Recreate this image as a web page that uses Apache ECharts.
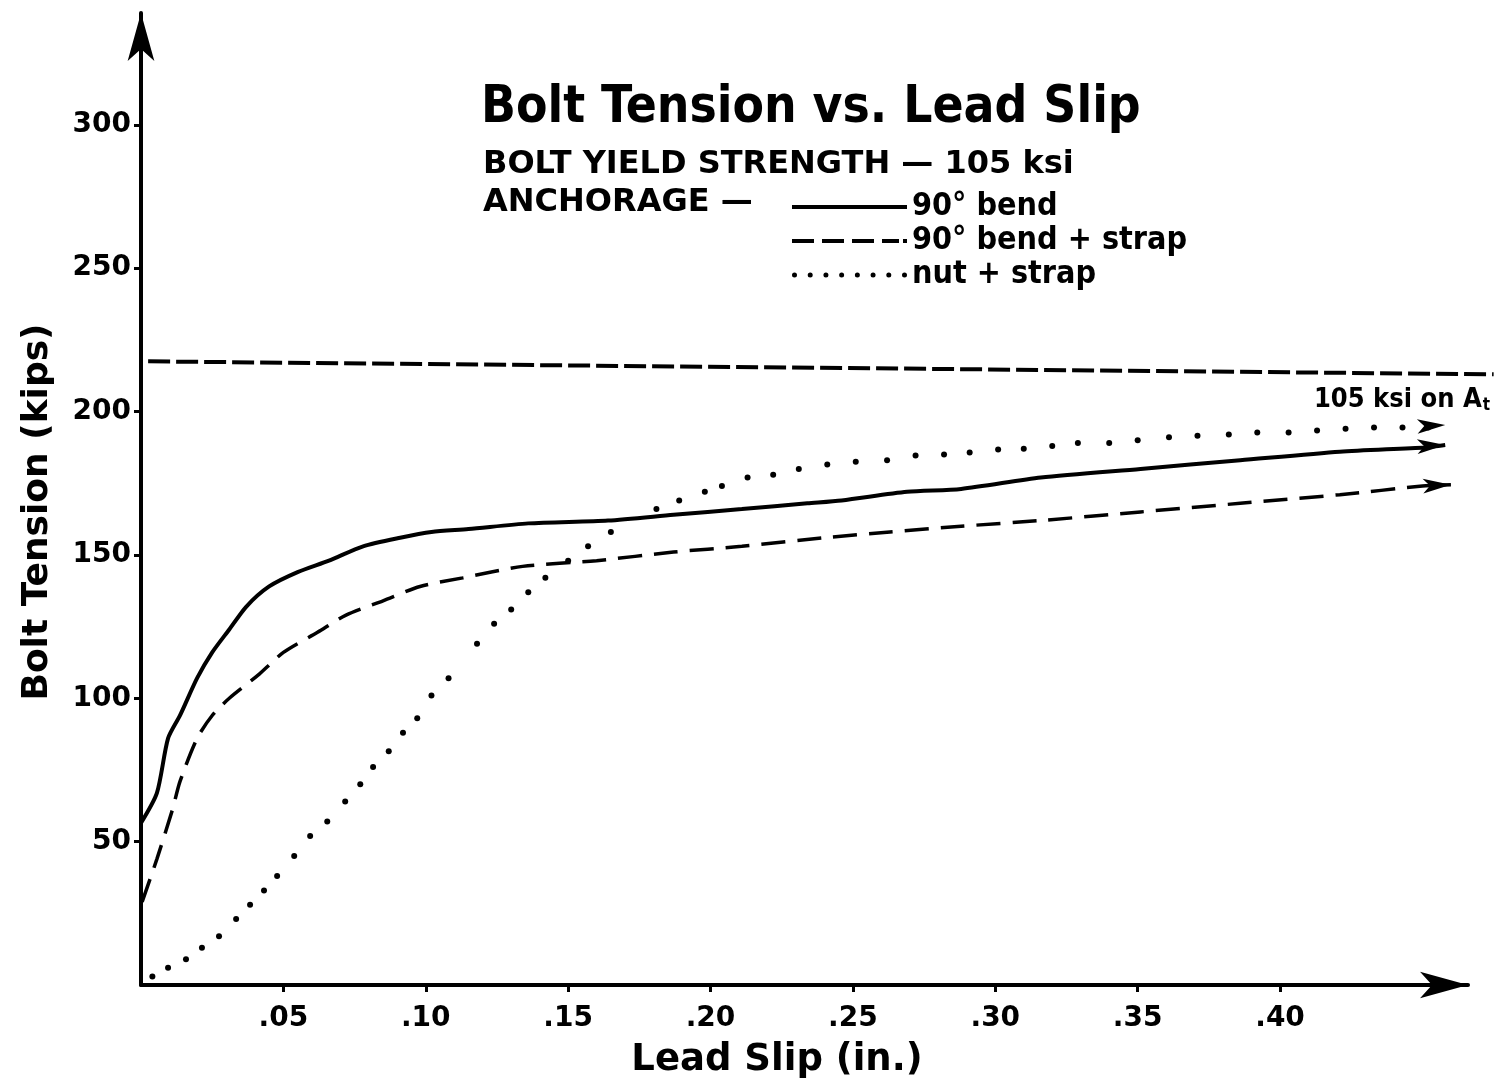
<!DOCTYPE html>
<html>
<head>
<meta charset="utf-8">
<script src="https://cdn.jsdelivr.net/npm/echarts@6/dist/echarts.min.js"></script>
<style>
  html, body { margin: 0; padding: 0; background: #fff; }
  #chart { width: 1497px; height: 1091px; }
</style>
</head>
<body>
<div id="chart"></div>
<script>
// ---- data ----
const xTicks = [0.05, 0.10, 0.15, 0.20, 0.25, 0.30, 0.35, 0.40];
const xTickLabels = ['.05', '.10', '.15', '.20', '.25', '.30', '.35', '.40'];
const yTicks = [50, 100, 150, 200, 250, 300];

// 90° bend (solid) — last point is the arrow head
const bendX = [0, 0.0056, 0.0095, 0.0137, 0.0197, 0.025, 0.031, 0.037, 0.045, 0.055, 0.066, 0.078, 0.091, 0.102, 0.115, 0.136, 0.164, 0.187, 0.211, 0.234, 0.246, 0.269, 0.288, 0.316, 0.351, 0.386, 0.421, 0.451, 0.458];
const bendY = [56.5, 67, 86, 94, 107, 116, 124, 132, 139, 144, 148, 153, 156, 158, 159, 161, 162, 164, 166, 168, 169, 172, 173, 177, 180, 183, 186, 187.5, 188.3];

// 90° bend + strap (dashed)
const strapX = [0.0004, 0.0056, 0.011, 0.0137, 0.0197, 0.025, 0.031, 0.041, 0.050, 0.062, 0.072, 0.085, 0.098, 0.113, 0.134, 0.160, 0.187, 0.211, 0.240, 0.263, 0.288, 0.316, 0.351, 0.386, 0.421, 0.450, 0.460];
const strapY = [29, 44, 61, 71, 86, 94, 100, 108, 116, 123, 129, 134, 139, 142, 146, 148, 151, 153, 156, 158, 160, 162, 165, 168, 171, 174, 174.5];

// nut + strap (dotted) — each visible dot
const nutX = [0.004, 0.0095, 0.0158, 0.0214, 0.0274, 0.0334, 0.0383, 0.0432, 0.0478, 0.0538, 0.0594, 0.0654, 0.0717, 0.077, 0.0815, 0.087, 0.092, 0.097, 0.102, 0.108, 0.118, 0.124, 0.130, 0.136, 0.142, 0.150, 0.157, 0.165, 0.181, 0.189, 0.198, 0.204, 0.213, 0.222, 0.231, 0.241, 0.251, 0.262, 0.272, 0.282, 0.291, 0.301, 0.310, 0.320, 0.329, 0.340, 0.350, 0.361, 0.371, 0.382, 0.392, 0.403, 0.413, 0.423, 0.433, 0.443, 0.452, 0.458];
const nutY = [3, 6, 9, 13, 17, 23, 28, 33, 38, 45, 52, 57, 64, 70, 76, 81.5, 88, 93, 101, 107, 119, 126, 131, 137, 142, 148, 153, 158, 166, 169, 172, 174, 177, 178, 180, 181.5, 182.5, 183, 184.7, 185, 185.7, 186.8, 187, 188, 189, 189, 190, 191, 191.6, 192, 192.7, 192.7, 193.4, 194, 194.4, 194.4, 194.4, 195.3];

// 105 ksi on At reference line
const yieldX = [0.0025, 0.475];
const yieldY = [217.5, 213];

const seriesNames = ['90° bend', '90° bend + strap', 'nut + strap'];

// ---- helpers ----
function withArrow(xs, ys) {
  return xs.map((x, i) => {
    if (i === xs.length - 1) {
      return { value: [x, ys[i]], symbol: 'arrow', symbolSize: [11, 28], symbolRotate: -87 };
    }
    return [x, ys[i]];
  });
}
function dotsPath(n, w, r) {
  let p = 'path://';
  const step = (w - 2 * r) / (n - 1);
  for (let i = 0; i < n; i++) {
    const cx = r + i * step;
    p += 'M' + (cx - r) + ',' + r + 'a' + r + ',' + r + ' 0 1,0 ' + (2 * r) + ',0a' + r + ',' + r + ' 0 1,0 ' + (-2 * r) + ',0Z';
  }
  return p;
}

const BOLD = { fontFamily: 'DejaVu Sans', fontWeight: 'bold', color: '#000' };
const X_MAX = 0.466, Y_MAX = 339;
const PLOT_LEFT = 141, PLOT_RIGHT = 29, PLOT_TOP = 13, PLOT_BOTTOM = 106;
// a second, invisible grid with the same scale but a wider x range, so the
// 105 ksi line can run past the arrow of the x axis as in the reference
const X_MAX2 = 0.475;
const plotW = 1497 - PLOT_LEFT - PLOT_RIGHT;
const RIGHT2 = 1497 - PLOT_LEFT - plotW * X_MAX2 / X_MAX;

const chart = echarts.init(document.getElementById('chart'), null, { renderer: 'canvas' });
const option = {
  animation: false,
  backgroundColor: '#fff',
  title: [
    { text: 'Bolt Tension vs. Lead Slip', left: 481, top: 83, padding: 0,
      textStyle: { fontFamily: 'DejaVu Sans Condensed', fontWeight: 'bold', fontSize: 51, color: '#000' } },
    { text: 'BOLT YIELD STRENGTH — 105 ksi', left: 483, top: 149, padding: 0,
      textStyle: Object.assign({ fontSize: 32 }, BOLD) },
    { text: 'ANCHORAGE —', left: 483, top: 187, padding: 0,
      textStyle: Object.assign({ fontSize: 32 }, BOLD) }
  ],
  legend: {
    orient: 'vertical', left: 792, top: 190, padding: 0, itemGap: 0,
    itemWidth: 115, itemHeight: 5, selectedMode: false,
    textStyle: { fontFamily: 'DejaVu Sans Condensed', fontWeight: 'bold', fontSize: 32, lineHeight: 34, color: '#000' },
    data: [
      { name: seriesNames[0], icon: 'path://M0,0M115,5M0,0.5H115V4.5H0Z' },
      { name: seriesNames[1], icon: 'path://M0,0M115,5M0,0.5h22v4h-22zM30,0.5h22v4h-22zM60,0.5h22v4h-22zM90,0.5h17v4h-17zM111,0.5h4v4h-4z' },
      { name: seriesNames[2], icon: dotsPath(8, 115, 2.5) }
    ],
    itemStyle: { color: '#000' }
  },
  grid: [
    { left: PLOT_LEFT, right: PLOT_RIGHT, top: PLOT_TOP, bottom: PLOT_BOTTOM, containLabel: false },
    { left: PLOT_LEFT, right: RIGHT2, top: PLOT_TOP, bottom: PLOT_BOTTOM, containLabel: false }
  ],
  xAxis: [{
    type: 'value', min: 0, max: X_MAX, interval: 0.05, gridIndex: 0,
    name: 'Lead Slip (in.)', nameLocation: 'middle', nameGap: 57,
    nameTextStyle: Object.assign({ fontSize: 37, padding: [0, 55, 0, 0] }, BOLD),
    axisLine: { show: true, lineStyle: { color: '#000', width: 4 }, symbol: ['none', 'arrow'], symbolSize: [20, 48] },
    axisTick: { show: true, customValues: xTicks, length: 7, lineStyle: { color: '#000', width: 3 } },
    axisLabel: { customValues: xTicks, margin: 20, fontSize: 28, fontFamily: 'DejaVu Sans', fontWeight: 'bold', color: '#000',
      formatter: v => { const i = xTicks.findIndex(t => Math.abs(t - v) < 1e-6); return i >= 0 ? xTickLabels[i] : ''; } },
    splitLine: { show: false }
  }, {
    type: 'value', min: 0, max: X_MAX2, gridIndex: 1, show: false, splitLine: { show: false }
  }],
  yAxis: [{
    type: 'value', min: 0, max: Y_MAX, interval: 50, gridIndex: 0,
    name: 'Bolt Tension (kips)', nameLocation: 'middle', nameGap: 85, nameRotate: 90,
    nameTextStyle: Object.assign({ fontSize: 36, padding: [0, 26, 0, 0] }, BOLD),
    axisLine: { show: true, lineStyle: { color: '#000', width: 4 }, symbol: ['none', 'arrow'], symbolSize: [20, 48] },
    axisTick: { show: true, customValues: yTicks, length: 7, lineStyle: { color: '#000', width: 3 } },
    axisLabel: { customValues: yTicks, margin: 10, fontSize: 28, fontFamily: 'DejaVu Sans', fontWeight: 'bold', color: '#000' },
    splitLine: { show: false }
  }, {
    type: 'value', min: 0, max: Y_MAX, gridIndex: 1, show: false, splitLine: { show: false }
  }],
  series: [
    { name: '105 ksi on At', type: 'line', xAxisIndex: 1, yAxisIndex: 1, symbol: 'none', silent: true,
      data: yieldX.map((x, i) => [x, yieldY[i]]),
      lineStyle: { color: '#000', width: 4, type: [22, 6] } },
    { name: seriesNames[0], type: 'line', clip: false, smooth: 0.25, showSymbol: true,
      symbol: 'circle', symbolSize: 0, itemStyle: { color: '#000' },
      data: withArrow(bendX, bendY),
      lineStyle: { color: '#000', width: 4 } },
    { name: seriesNames[1], type: 'line', clip: false, smooth: 0.25, showSymbol: true,
      symbol: 'circle', symbolSize: 0, itemStyle: { color: '#000' },
      data: withArrow(strapX, strapY),
      lineStyle: { color: '#000', width: 3.5, type: [24, 12] } },
    { name: seriesNames[2], type: 'line', clip: false, showSymbol: true,
      symbol: 'circle', symbolSize: 6, itemStyle: { color: '#000' },
      data: withArrow(nutX, nutY),
      lineStyle: { width: 0, opacity: 0 } }
  ],
  graphic: [
    { type: 'text', right: 7, top: 386, silent: true,
      style: { text: '{a|105 ksi on A}{b|t}',
        rich: { a: { fontFamily: 'DejaVu Sans Condensed', fontWeight: 'bold', fontSize: 27, fill: '#000' },
                b: { fontFamily: 'DejaVu Sans Condensed', fontWeight: 'bold', fontSize: 17, fill: '#000', padding: [12, 0, 0, 1] } } } }
  ]
};
chart.setOption(option);
</script>
</body>
</html>
